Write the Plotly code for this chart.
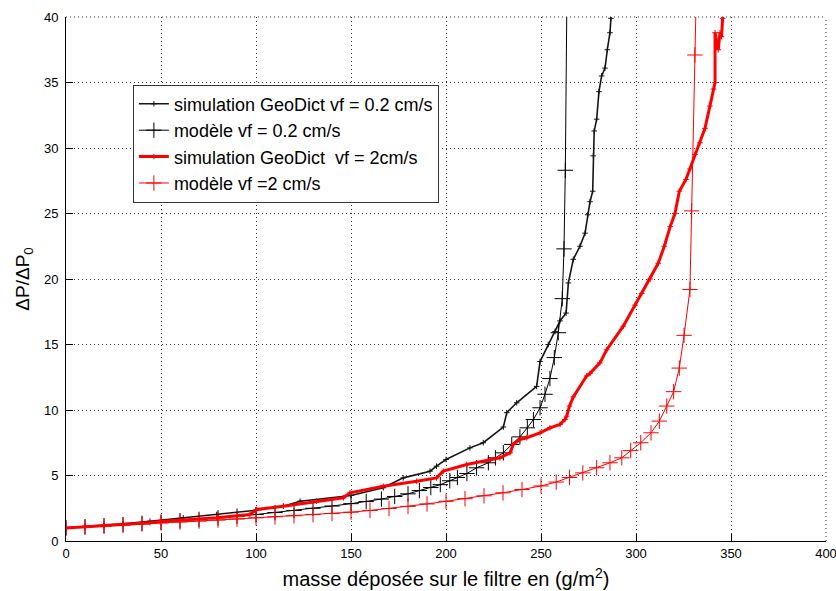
import plotly.graph_objects as go

# ---- data ----
sim02_x = [0, 10, 20, 30, 44.2, 61.7, 79.3, 100, 114.4, 123.2, 150, 167, 177.5, 191.6, 195, 200,
           212.6, 219.6, 230.2, 232.0, 237.2, 247.7, 249.5, 253.8, 257.4, 260, 263.2, 264.4, 267,
           270.5, 273.2, 274.6, 275.8, 277.2, 277.5, 278, 279.3, 280.5, 281.9, 283.7, 284.9, 286.3,
           286.8, 287.2]
sim02_y = [1.0, 1.1, 1.2, 1.31, 1.51, 1.77, 2.02, 2.35, 2.66, 3.04, 3.47, 4.06, 4.82, 5.33, 5.71, 6.22,
           7.11, 7.5, 8.7, 9.8, 10.55, 11.8, 13.7, 15.0, 16.0, 16.8, 17.4, 19.7, 21.5,
           22.5, 23.5, 24.9, 25.9, 26.7, 29.4, 31.3, 32.2, 34.3, 35.5, 36.1, 37.5, 38.8,
           39.9, 40.5]

mod02_x = [0, 10, 20, 30, 40, 50, 60, 70, 80, 90, 100, 110, 120, 130, 140, 150, 158, 166, 173, 180,
           186, 192, 197, 202, 206, 211, 216.1, 222.3, 226, 230.2, 234.6, 238.9, 242.8, 246, 249.5,
           252.1, 254.7, 257, 259.1, 261.2, 262.1, 262.8, 263.6]
mod02_y = [1.0, 1.08, 1.16, 1.25, 1.35, 1.45, 1.55, 1.65, 1.77, 1.89, 2.02, 2.17, 2.33, 2.5, 2.67, 2.85,
           3.01, 3.2, 3.4, 3.6, 3.85, 4.08, 4.3, 4.6, 4.85, 5.15, 5.59, 5.97, 6.35, 6.73, 7.37, 7.95,
           8.64, 9.27, 10.17, 11.2, 12.4, 14.0, 15.9, 18.5, 22.3, 28.3, 41]

sim2_x = [0, 10, 20, 30, 44.2, 49.5, 79.3, 96.8, 100.4, 114.4, 131.9, 146, 149.5, 167, 184.6, 195,
          198.6, 210.9, 228.4, 233.7, 235.4, 238.9, 242.5, 249.5, 254.7, 260, 262.6, 263.5, 265, 267,
          274, 275.8, 281, 284.6, 293.3, 299.5, 303, 307.5, 311.7, 314.9, 318, 320.5, 322.8, 326.3,
          328.4, 331.1, 333.7, 336.3, 338.9, 340.7, 341.6, 341.6, 343.3, 344.2, 345, 345.6, 346]
sim2_y = [1.0, 1.08, 1.17, 1.26, 1.39, 1.48, 1.77, 2.02, 2.4, 2.66, 3.04, 3.3, 3.68, 4.18, 4.56, 4.82,
          5.33, 5.84, 6.35, 6.73, 7.37, 7.75, 7.88, 8.26, 8.64, 8.9, 9.27, 9.53, 10.3, 11.0,
          12.6, 12.8, 13.6, 14.6, 16.4, 18.0, 18.9, 20.0, 21.2, 22.5, 24.0, 25.0, 26.7, 27.6,
          28.4, 29.5, 30.4, 31.5, 33.2, 34.5, 35.0, 38.8, 37.5, 38.8, 38.5, 39.9, 40.5]

mod2_x = [0, 10, 20, 30, 40, 50, 60, 70, 80, 90, 100, 110, 120, 130, 140, 150, 160, 170, 180, 190,
          200, 210, 220, 230, 240, 250, 258, 265, 272, 279.3, 286.3, 292.5, 297.2, 302.5, 307.9,
          312.3, 316.2, 319.8, 322.8, 325.3, 328.4, 329.3, 331, 331.6]
mod2_y = [1.0, 1.07, 1.14, 1.22, 1.3, 1.38, 1.45, 1.52, 1.6, 1.68, 1.77, 1.85, 1.93, 2.02, 2.1, 2.2,
          2.33, 2.48, 2.64, 2.83, 3.03, 3.23, 3.45, 3.68, 3.93, 4.2, 4.5, 4.85, 5.2, 5.59, 5.97,
          6.35, 6.9, 7.5, 8.26, 9.15, 10.3, 11.4, 13.2, 15.7, 19.2, 25.2, 37.1, 41]

x_ticks = [0, 50, 100, 150, 200, 250, 300, 350, 400]
y_ticks = [0, 5, 10, 15, 20, 25, 30, 35, 40]

names = ["simulation GeoDict vf = 0.2 cm/s", "modèle vf = 0.2 cm/s",
         "simulation GeoDict  vf = 2cm/s", "modèle vf =2 cm/s"]

FONT = "Liberation Sans, Arial, Helvetica, sans-serif"
GRID_DASH = "1px,3px"
GRID_COLOR = "#333333"

fig = go.Figure()

fig.add_trace(go.Scatter(x=sim02_x, y=sim02_y, name=names[0],
                         mode="lines+markers",
                         line=dict(color="#151515", width=1.6),
                         marker=dict(symbol="cross-thin", size=4, line=dict(color="#151515", width=1))))
fig.add_trace(go.Scatter(x=mod02_x, y=mod02_y, name=names[1],
                         mode="lines+markers",
                         line=dict(color="#000000", width=1),
                         marker=dict(symbol="cross-thin", size=11, line=dict(color="#000000", width=1))))
fig.add_trace(go.Scatter(x=sim2_x, y=sim2_y, name=names[2],
                         mode="lines+markers",
                         line=dict(color="#ff0000", width=3),
                         marker=dict(symbol="cross-thin", size=4, line=dict(color="#ff0000", width=1))))
fig.add_trace(go.Scatter(x=mod2_x, y=mod2_y, name=names[3],
                         mode="lines+markers",
                         line=dict(color="#ff0000", width=1),
                         marker=dict(symbol="cross-thin", size=11, line=dict(color="#ff0000", width=1))))

axis_common = dict(
    showline=True, linecolor="black", linewidth=1, mirror=False,
    ticks="inside", ticklen=7, tickcolor="black", tickwidth=1,
    showgrid=True, gridcolor=GRID_COLOR, gridwidth=1, griddash=GRID_DASH,
    zeroline=False,
    tickfont=dict(family=FONT, size=13, color="black"),
    ticklabeloverflow="allow",
)

fig.update_xaxes(range=[0, 400], tickmode="array", tickvals=x_ticks,
                 ticktext=[str(v) for v in x_ticks],
                 title=dict(text="masse déposée sur le filtre en (g/m<sup>2</sup>)",
                            font=dict(family=FONT, size=20, color="black"), standoff=12),
                 **axis_common)
fig.update_yaxes(range=[0, 40], tickmode="array", tickvals=y_ticks,
                 ticktext=[str(v) for v in y_ticks],
                 ticklabelstandoff=4,
                 title=dict(text="ΔP/ΔP<sub>0</sub>",
                            font=dict(family=FONT, size=19, color="black"), standoff=9),
                 **axis_common)

# dotted frame lines on the open top and right edges (MATLAB grid at the axis limits)
fig.add_shape(type="line", xref="paper", yref="paper", x0=1, x1=1, y0=0, y1=1,
              line=dict(color=GRID_COLOR, width=1, dash=GRID_DASH), layer="below")
fig.add_shape(type="line", xref="paper", yref="paper", x0=0, x1=1, y0=1, y1=1,
              line=dict(color=GRID_COLOR, width=1, dash=GRID_DASH), layer="below")

fig.update_layout(
    width=836, height=591,
    margin=dict(l=66, r=10, t=17, b=50, autoexpand=False),
    paper_bgcolor="white", plot_bgcolor="white",
    showlegend=True,
    legend=dict(x=0.088, y=0.871, xanchor="left", yanchor="top",
                bgcolor="white", bordercolor="#333333", borderwidth=1,
                font=dict(family=FONT, size=18, color="black"),
                traceorder="normal"),
)

fig.write_html("out.html")
